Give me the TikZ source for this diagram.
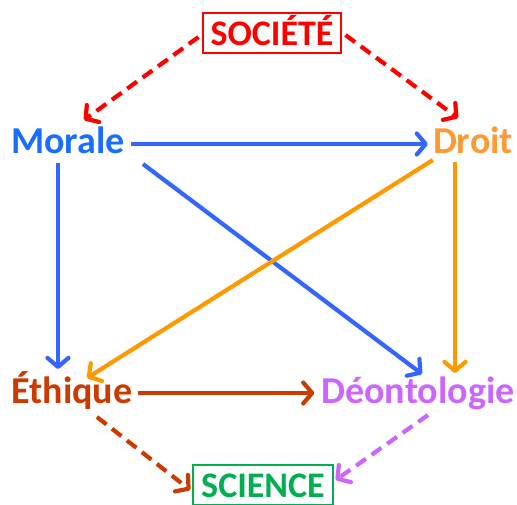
\documentclass[tikz,border=0pt]{standalone}
\usepackage{fontspec}
\setmainfont{Carlito}
\usepackage{xcolor}
\usetikzlibrary{arrows.meta}
\definecolor{socred}{HTML}{FF0000}
\definecolor{moralblue}{HTML}{1A6EFF}
\definecolor{arrowblue}{HTML}{3366FF}
\definecolor{droitorange}{HTML}{FF9933}
\definecolor{arroworange}{HTML}{FF9900}
\definecolor{ethrust}{HTML}{CC3A00}
\definecolor{deonviolet}{HTML}{CC66FF}
\definecolor{scigreen}{HTML}{00B050}

\begin{document}
\begin{tikzpicture}[x=1pt,y=-1pt,>={Straight Barb[round,length=9pt,width=21pt]},
  word/.style={font=\fontsize{38}{40}\selectfont\bfseries,inner sep=0pt,anchor=base},
  framed/.style={draw,line width=2pt,font=\fontsize{36}{38}\selectfont\bfseries,
    inner xsep=8pt,inner ysep=0pt,text height=32pt,text depth=8pt,anchor=base},
  link/.style={->,line width=4.2pt},
  dashlink/.style={link,dash pattern=on 12pt off 7pt}]
  \useasboundingbox (0,0) rectangle (517,504);
  \node[framed,socred] (societe) at (272,45) {SOCIÉTÉ};
  \node[word,moralblue] (morale) at (68,153) {Morale};
  \node[word,droitorange] (droit) at (473,153) {Droit};
  \node[word,ethrust] (ethique) at (72,403) {Éthique};
  \node[word,deonviolet] (deonto) at (418,403) {Déontologie};
  \node[framed,scigreen] (science) at (263,497) {SCIENCE};
  \draw[dashlink,socred] ([shift={(-3,4)}]societe.west) -- ([shift={(16,-33)}]morale.base);
  \draw[dashlink,socred] ([shift={(3,2)}]societe.east) -- ([shift={(-15,-35)}]droit.base);
  \draw[link,arrowblue] ([shift={(6,-9)}]morale.base east) -- ([shift={(-5,-9)}]droit.base west);
  \draw[link,arrowblue] ([shift={(-10,10)}]morale.base) -- ([shift={(-14,-34)}]ethique.base);
  \draw[link,arrowblue] ([shift={(18,11)}]morale.base east) -- ([shift={(4,-29)}]deonto.base);
  \draw[link,arroworange] ([shift={(0,7)}]droit.base west) -- ([shift={(15,-25)}]ethique.base);
  \draw[link,arroworange] ([shift={(-18,9)}]droit.base) -- ([shift={(37,-30)}]deonto.base);
  \draw[link,ethrust] ([shift={(5,-10)}]ethique.base east) -- ([shift={(-7,-10)}]deonto.base west);
  \draw[dashlink,ethrust] ([shift={(25,14)}]ethique.base) -- ([shift={(-2,26)}]science.north west);
  \draw[dashlink,deonviolet] ([shift={(10,12)}]deonto.base) -- ([shift={(2,16)}]science.north east);
\end{tikzpicture}
\end{document}
